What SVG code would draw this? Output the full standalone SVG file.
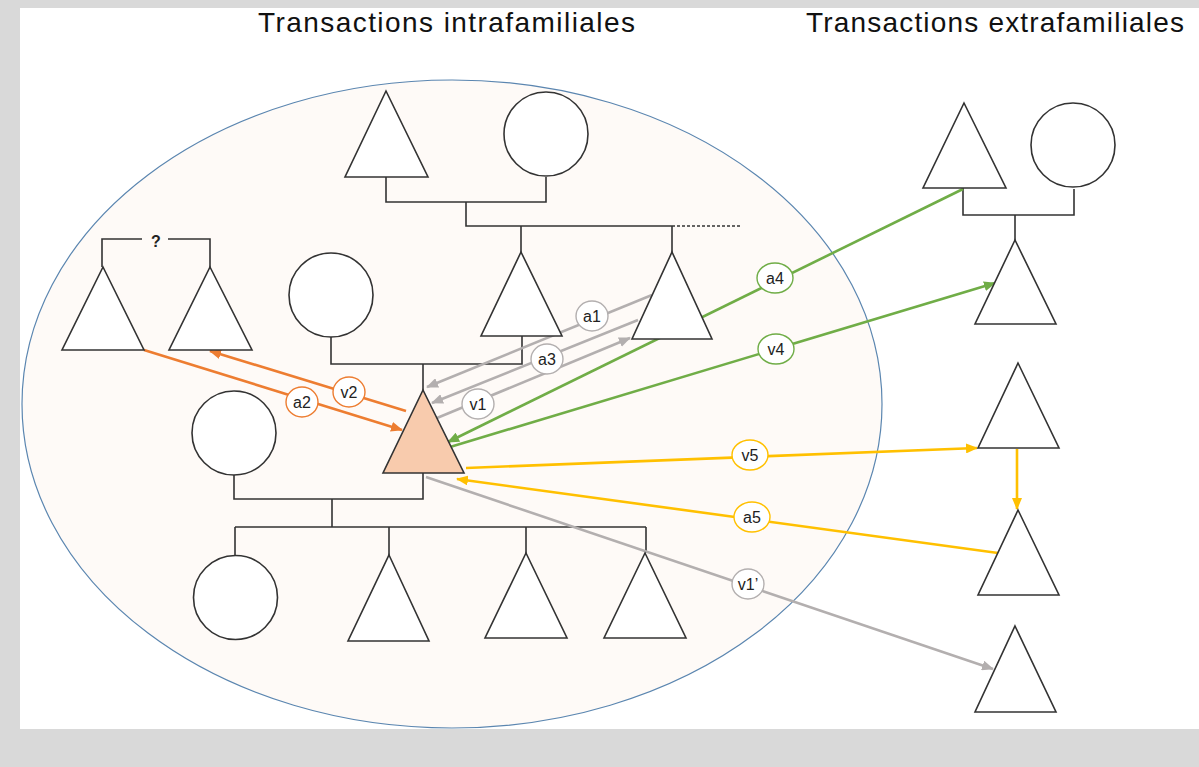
<svg xmlns="http://www.w3.org/2000/svg" width="1199" height="767" viewBox="0 0 1199 767">
<style>
.k{fill:none;stroke:#333;stroke-width:1.6}
.n{fill:#fff;stroke:#333;stroke-width:1.6}
.ego{fill:#f8cbad;stroke:#333;stroke-width:1.6}
.c{fill:none;stroke-width:2.6}
.og{stroke:#ed7d31}.gy{stroke:#b3afaf}.gn{stroke:#70ad47}.yl{stroke:#ffc000}
.lb{fill:#fff;stroke-width:1.4}
.lt{font-family:"Liberation Sans",Arial,sans-serif;font-size:16px;fill:#222;text-anchor:middle}
.tt{font-family:"Liberation Sans",Arial,sans-serif;font-size:28px;fill:#111}
</style>
<defs>
<marker id="mO" markerUnits="userSpaceOnUse" markerWidth="12" markerHeight="10" viewBox="0 0 12 10" refX="11" refY="5" orient="auto"><path d="M0,0L12,5L0,10z" fill="#ed7d31"/></marker>
<marker id="mG" markerUnits="userSpaceOnUse" markerWidth="12" markerHeight="10" viewBox="0 0 12 10" refX="11" refY="5" orient="auto"><path d="M0,0L12,5L0,10z" fill="#b3afaf"/></marker>
<marker id="mN" markerUnits="userSpaceOnUse" markerWidth="12" markerHeight="10" viewBox="0 0 12 10" refX="11" refY="5" orient="auto"><path d="M0,0L12,5L0,10z" fill="#70ad47"/></marker>
<marker id="mY" markerUnits="userSpaceOnUse" markerWidth="12" markerHeight="10" viewBox="0 0 12 10" refX="11" refY="5" orient="auto"><path d="M0,0L12,5L0,10z" fill="#ffc000"/></marker>
</defs>
<rect x="0" y="0" width="1199" height="767" fill="#d9d9d9"/>
<rect x="20" y="8" width="1179" height="721" fill="#fff"/>
<ellipse id="famille" cx="452" cy="404" rx="430" ry="324" fill="#fefaf7" stroke="#5b86b0" stroke-width="1.2"/>
<text class="tt" x="258" y="32" textLength="377" lengthAdjust="spacing">Transactions intrafamiliales</text>
<text class="tt" x="806" y="32" textLength="378" lengthAdjust="spacing">Transactions extrafamiliales</text>

<g id="connectors">
 <g id="kinship">
  <path class="k" d="M386,177V202H546V177M466,202V226H672M521,226V252M672,226V252"/>
  <path class="k" d="M672,226H740" stroke-dasharray="3,2" stroke-width="1.2"/>
  <path class="k" d="M102,267V239H142M168,239H210V267"/>
  <text class="lt" x="156" y="247" style="font-weight:bold">?</text>
  <path class="k" d="M331,337V364H522V336M423,364V390"/>
  <path class="k" d="M234,475V499H423V473M332,499V527M235,527H646M235,527V555M389,527V555M526,527V553M646,527V553"/>
  <path class="k" d="M963,188V215H1074V189M1015,215V240"/>
 </g>
 <g id="transactions">
  <path class="c gy" d="M652,295L427,387" marker-end="url(#mG)"/>
  <path class="c gy" d="M638,320L432,403" marker-end="url(#mG)"/>
  <path class="c gy" d="M437,418L630,338" marker-end="url(#mG)"/>
  <path class="c og" d="M144,350L402,430" marker-end="url(#mO)"/>
  <path class="c og" d="M406,411L210,351" marker-end="url(#mO)"/>
  <path class="c gn" d="M963,189L448,442" marker-end="url(#mN)"/>
  <path class="c gn" d="M450,447L995,283" marker-end="url(#mN)"/>
  <path class="c yl" d="M466,468L977,448" marker-end="url(#mY)"/>
  <path class="c yl" d="M998,553L457,479" marker-end="url(#mY)"/>
  <path class="c yl" d="M1017,449L1017,509" marker-end="url(#mY)"/>
  <path class="c gy" d="M426,477L993,669" marker-end="url(#mG)"/>
 </g>
 <g id="labels">
  <g id="l-a1"><ellipse class="lb gy" cx="592" cy="316" rx="16" ry="15"/><text class="lt" x="592" y="322">a1</text></g>
  <g id="l-a3"><ellipse class="lb gy" cx="547" cy="359" rx="16" ry="15"/><text class="lt" x="547" y="365">a3</text></g>
  <g id="l-v1"><ellipse class="lb gy" cx="478" cy="404" rx="16" ry="15"/><text class="lt" x="478" y="410">v1</text></g>
  <g id="l-a2"><ellipse class="lb og" cx="302" cy="402" rx="16" ry="15"/><text class="lt" x="302" y="408">a2</text></g>
  <g id="l-v2"><ellipse class="lb og" cx="349" cy="392" rx="16" ry="15"/><text class="lt" x="349" y="398">v2</text></g>
  <g id="l-a4"><ellipse class="lb gn" cx="775" cy="278" rx="18" ry="15"/><text class="lt" x="775" y="284">a4</text></g>
  <g id="l-v4"><ellipse class="lb gn" cx="776" cy="349" rx="18" ry="15"/><text class="lt" x="776" y="355">v4</text></g>
  <g id="l-v5"><ellipse class="lb yl" cx="750" cy="455" rx="18" ry="15"/><text class="lt" x="750" y="461">v5</text></g>
  <g id="l-a5"><ellipse class="lb yl" cx="752" cy="517" rx="18" ry="15"/><text class="lt" x="752" y="523">a5</text></g>
  <g id="l-v1p"><ellipse class="lb gy" cx="748" cy="584" rx="16" ry="15"/><text class="lt" x="748" y="590">v1’</text></g>
 </g>
</g>

<g id="nodes">
 <g id="gp-homme"><path class="n" d="M386,91L428,177H345Z"/></g>
 <g id="gp-femme"><circle class="n" cx="546" cy="134" r="42"/></g>
 <g id="oncle"><path class="n" d="M521,252L562,336H481Z"/></g>
 <g id="oncle2"><path class="n" d="M672,252L712,339H632Z"/></g>
 <g id="l1"><path class="n" d="M103,267L144,350H62Z"/></g>
 <g id="l2"><path class="n" d="M210,267L252,350H169Z"/></g>
 <g id="mere"><circle class="n" cx="331" cy="295" r="42"/></g>
 <g id="ego"><path class="ego" d="M423,390L464,473H383Z"/></g>
 <g id="epouse"><circle class="n" cx="234" cy="433" r="42"/></g>
 <g id="fille"><circle class="n" cx="235.5" cy="597.5" r="42"/></g>
 <g id="fils1"><path class="n" d="M389,555L429,641H348Z"/></g>
 <g id="fils2"><path class="n" d="M526,553L567,638H485Z"/></g>
 <g id="fils3"><path class="n" d="M645,553L686,638H604Z"/></g>
 <g id="e1"><path class="n" d="M964,103L1006,188H923Z"/></g>
 <g id="e2"><circle class="n" cx="1073" cy="145" r="42"/></g>
 <g id="e3"><path class="n" d="M1015,240L1056,324H975Z"/></g>
 <g id="e4"><path class="n" d="M1018,363L1059,448H978Z"/></g>
 <g id="e5"><path class="n" d="M1018,510L1059,595H978Z"/></g>
 <g id="e6"><path class="n" d="M1015,626L1056,712H975Z"/></g>
</g>
</svg>
